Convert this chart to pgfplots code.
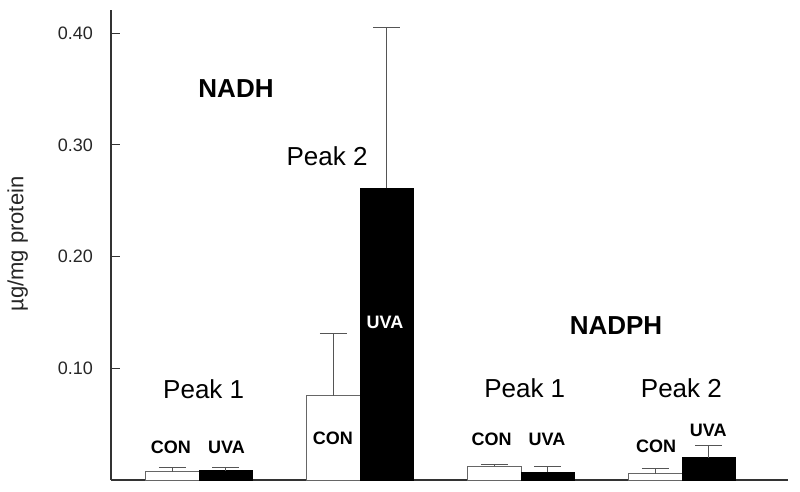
\documentclass[border=0pt]{standalone}
\usepackage{pgfplots}
\usepackage{pgfplotstable}
\pgfplotsset{compat=1.18}
\usepackage{fontspec}
\setmainfont{Liberation Sans}
\definecolor{axisgray}{HTML}{333333}
\definecolor{errgray}{HTML}{555555}
\definecolor{edgegray}{HTML}{666666}

% group: 1 = NADH Peak 1, 2 = NADH Peak 2, 3 = NADPH Peak 1, 4 = NADPH Peak 2
\pgfplotstableread{
x      y       err
0.834  0.0074  0.0036
1.834  0.0755  0.0558
2.834  0.0125  0.0018
3.834  0.0054  0.0051
}\contable
\pgfplotstableread{
x      y       err
1.167  0.0083  0.0033
2.167  0.2610  0.1437
3.167  0.0069  0.0053
4.167  0.0200  0.0113
}\uvatable

\begin{document}
\begin{tikzpicture}
\begin{axis}[
  at={(0pt,0pt)}, anchor=south west,
  scale only axis, width=677pt, height=470pt,
  xmin=0.4534, xmax=4.658, ymin=0, ymax=0.4208,
  axis lines=left,
  axis line style={-, line width=1.1pt, axisgray},
  xtick=\empty,
  ytick={0.1,0.2,0.3,0.4},
  ytick pos=left,
  tick align=inside,
  major tick length=9pt,
  every tick/.style={line width=1.1pt, axisgray},
  /pgf/number format/.cd, fixed, fixed zerofill, precision=2, assume math mode=true,
  /pgfplots/.cd,
  yticklabel style={font=\fontsize{18}{20}\selectfont, inner sep=0pt, xshift=-18pt, text=black!85},
  ylabel={µg/mg protein},
  ylabel style={at={(axis description cs:-0.138,0.502)}, anchor=center, inner sep=0pt, font=\fontsize{22}{24}\selectfont, text=black!85},
  ybar, bar width=0.3323, bar shift=0pt,
  clip=false,
]
\addplot[fill=white, draw=edgegray, line width=1pt,
  error bars/.cd, y dir=plus, y explicit,
  error bar style={line width=1pt, errgray},
  error mark options={errgray, line width=1pt, mark size=13.5pt, rotate=90}]
  table[x=x, y=y, y error=err] {\contable};
\addplot[fill=black, draw=black, line width=1pt,
  error bars/.cd, y dir=plus, y explicit,
  error bar style={line width=1pt, errgray},
  error mark options={errgray, line width=1pt, mark size=13.5pt, rotate=90}]
  table[x=x, y=y, y error=err] {\uvatable};

\begin{scope}[every node/.style={anchor=base, inner sep=0pt}]
\node[font=\fontsize{26}{28}\selectfont\bfseries] at (axis cs:1.2298,0.3426) {NADH};
\node[font=\fontsize{26}{28}\selectfont\bfseries] at (axis cs:3.590,0.1304) {NADPH};
\node[font=\fontsize{26}{28}\selectfont] at (axis cs:1.029,0.0731) {Peak 1};
\node[font=\fontsize{26}{28}\selectfont] at (axis cs:1.795,0.2820) {Peak 2};
\node[font=\fontsize{26}{28}\selectfont] at (axis cs:3.023,0.0739) {Peak 1};
\node[font=\fontsize{26}{28}\selectfont] at (axis cs:3.996,0.0739) {Peak 2};
\node[font=\fontsize{18}{20}\selectfont\bfseries] at (axis cs:0.826,0.0233) {CON};
\node[font=\fontsize{18}{20}\selectfont\bfseries] at (axis cs:1.171,0.0233) {UVA};
\node[font=\fontsize{18}{20}\selectfont\bfseries] at (axis cs:1.832,0.0322) {CON};
\node[font=\fontsize{18}{20}\selectfont\bfseries, text=white] at (axis cs:2.155,0.1358) {UVA};
\node[font=\fontsize{18}{20}\selectfont\bfseries] at (axis cs:2.818,0.0312) {CON};
\node[font=\fontsize{18}{20}\selectfont\bfseries] at (axis cs:3.161,0.0312) {UVA};
\node[font=\fontsize{18}{20}\selectfont\bfseries] at (axis cs:3.839,0.0243) {CON};
\node[font=\fontsize{18}{20}\selectfont\bfseries] at (axis cs:4.163,0.0386) {UVA};
\end{scope}
\end{axis}
\pgfresetboundingbox
\path[use as bounding box] (-111pt,-11pt) rectangle (689pt,480pt);
\end{tikzpicture}
\end{document}
